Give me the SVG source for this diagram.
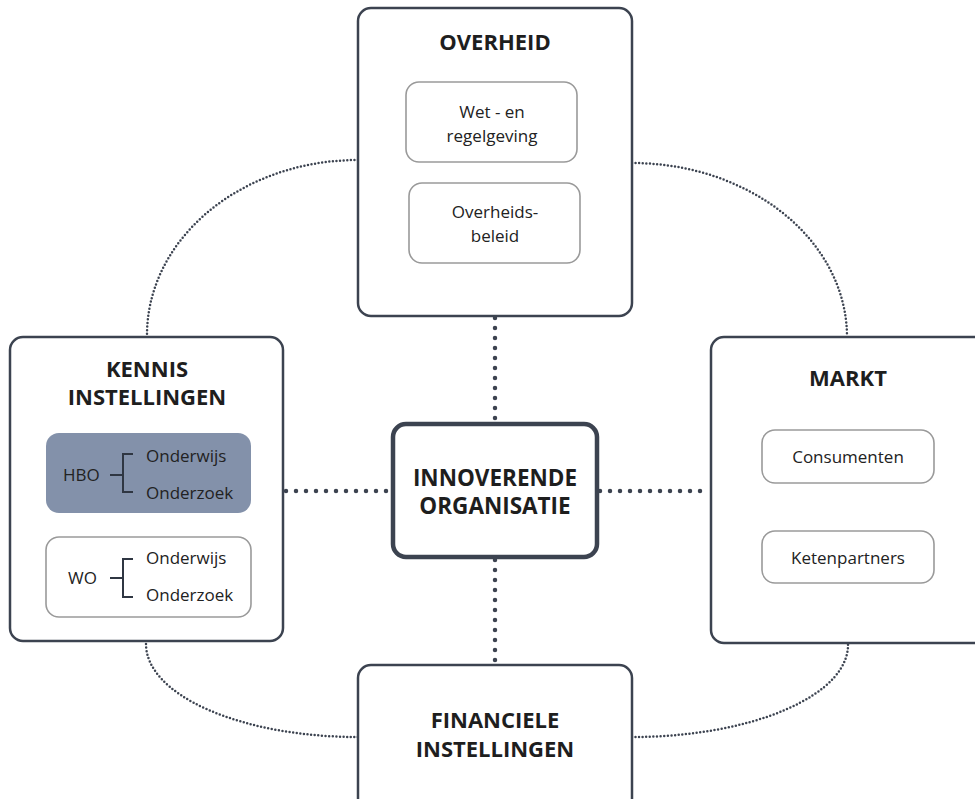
<svg xmlns="http://www.w3.org/2000/svg" width="975" height="799" viewBox="0 0 975 799">
<style>
.box{fill:#fff;stroke:#3c4350;stroke-width:2.5}
.center{fill:#fff;stroke:#3c4350;stroke-width:4.5}
.inner{fill:#fff;stroke:#9a9a9a;stroke-width:1.6}
.hbo{fill:#8391aa;stroke:none}
.title{font-family:"Open Sans",sans-serif;font-weight:bold;font-size:22px;fill:#1e1e1e;text-anchor:middle}
.ctitle{font-family:"Open Sans",sans-serif;font-weight:bold;font-size:22.5px;fill:#1e1e1e;text-anchor:middle}
.lbl{font-family:"Open Sans",sans-serif;font-size:17px;fill:#222;text-anchor:middle}
.lbls{font-family:"Open Sans",sans-serif;font-size:17px;fill:#222}
.bracket{fill:none;stroke:#2f3642;stroke-width:2}
.thick{fill:none;stroke:#3c4350;stroke-width:4.5;stroke-linecap:round;stroke-dasharray:0 10}
.thin{fill:none;stroke:#3c4350;stroke-width:2.5;stroke-linecap:round;stroke-dasharray:0 3.6}
</style>
<rect width="975" height="799" fill="#fff"/>
<g id="connectors">
<path class="thin" d="M358,160 A211,175 0 0 0 147,336"/>
<path class="thin" d="M632,163 A215,174 0 0 1 847,336"/>
<path class="thin" d="M146,644 A212,93 0 0 0 358,737"/>
<path class="thin" d="M632,737 A216,92 0 0 0 848,644"/>
<path class="thick" d="M495,318 V421"/>
<path class="thick" d="M495,560 V665"/>
<path class="thick" d="M286,491 H390"/>
<path class="thick" d="M600,491 H709"/>
</g>
<g id="overheid">
<rect class="box" x="358" y="8" width="274" height="308" rx="13"/>
<text class="title" x="495" y="50">OVERHEID</text>
<rect class="inner" x="406" y="82" width="171" height="80" rx="13"/>
<text class="lbl" x="492" y="118">Wet - en</text>
<text class="lbl" x="492" y="142">regelgeving</text>
<rect class="inner" x="409" y="183" width="171" height="80" rx="13"/>
<text class="lbl" x="495" y="218">Overheids-</text>
<text class="lbl" x="495" y="242">beleid</text>
</g>
<g id="kennis">
<rect class="box" x="10" y="337" width="273" height="304" rx="13"/>
<text class="title" x="147" y="377">KENNIS</text>
<text class="title" x="147" y="405">INSTELLINGEN</text>
<rect class="hbo" x="46" y="433" width="205" height="80" rx="13"/>
<text class="lbls" x="63" y="481">HBO</text>
<path class="bracket" d="M110,475 H123 M133,454 H123 V492 H133"/>
<text class="lbls" x="146" y="462">Onderwijs</text>
<text class="lbls" x="146" y="499">Onderzoek</text>
<rect class="inner" x="46" y="537" width="205" height="80" rx="13"/>
<text class="lbls" x="68" y="584">WO</text>
<path class="bracket" d="M110,578 H123 M133,559 H123 V597 H133"/>
<text class="lbls" x="146" y="564">Onderwijs</text>
<text class="lbls" x="146" y="601">Onderzoek</text>
</g>
<g id="innoverende">
<rect class="center" x="393" y="424" width="204" height="133" rx="13"/>
<text class="ctitle" x="495" y="486">INNOVERENDE</text>
<text class="ctitle" x="495" y="514">ORGANISATIE</text>
</g>
<g id="markt">
<rect class="box" x="711" y="337" width="280" height="306" rx="13"/>
<text class="title" x="848" y="386">MARKT</text>
<rect class="inner" x="762" y="430" width="172" height="53" rx="13"/>
<text class="lbl" x="848" y="463">Consumenten</text>
<rect class="inner" x="762" y="531" width="172" height="52" rx="13"/>
<text class="lbl" x="848" y="564">Ketenpartners</text>
</g>
<g id="financiele">
<rect class="box" x="358" y="665" width="274" height="150" rx="13"/>
<text class="title" x="495" y="728">FINANCIELE</text>
<text class="title" x="495" y="757">INSTELLINGEN</text>
</g>
</svg>
